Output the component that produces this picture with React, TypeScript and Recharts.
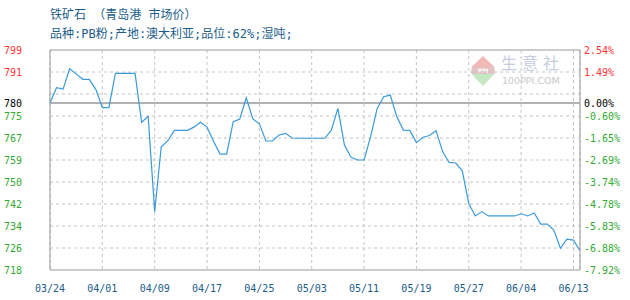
import { LineChart, Line, XAxis, YAxis, CartesianGrid, ReferenceLine } from "recharts";

// Daily quotes, 03/24 – 06/14 (06/08 has no quote)
const diasMarco = ["03/24", "03/25", "03/26", "03/27", "03/28", "03/29", "03/30", "03/31"];
const diasAbril = [
  "04/01", "04/02", "04/03", "04/04", "04/05", "04/06", "04/07", "04/08", "04/09", "04/10",
  "04/11", "04/12", "04/13", "04/14", "04/15", "04/16", "04/17", "04/18", "04/19", "04/20",
  "04/21", "04/22", "04/23", "04/24", "04/25", "04/26", "04/27", "04/28", "04/29", "04/30",
];
const diasMaio = [
  "05/01", "05/02", "05/03", "05/04", "05/05", "05/06", "05/07", "05/08", "05/09", "05/10",
  "05/11", "05/12", "05/13", "05/14", "05/15", "05/16", "05/17", "05/18", "05/19", "05/20",
  "05/21", "05/22", "05/23", "05/24", "05/25", "05/26", "05/27", "05/28", "05/29", "05/30",
  "05/31",
];
const diasJunho = [
  "06/01", "06/02", "06/03", "06/04", "06/05", "06/06", "06/07", "06/09", "06/10", "06/11",
  "06/12", "06/13", "06/14",
];

// 元/吨
const precos = [
  779.5, 785.1, 784.6, 792.1, 790.2, 788.2, 788.2, 784.5,
  777.8, 777.8, 790.4, 790.4, 790.4, 790.4, 772.4, 774.5, 739.5, 763.4,
  765.6, 769.4, 769.4, 769.4, 770.6, 772.4, 770.6, 765.3, 760.7, 760.7,
  772.6, 773.6, 781.4, 773.6, 771.8, 765.5, 765.5, 767.7, 768.3, 766.6,
  766.5, 766.5, 766.5, 766.5, 766.5, 769.5, 777.5, 764.0, 759.5, 758.5,
  758.5, 767.1, 777.5, 781.8, 782.4, 774.5, 769.5, 769.4, 764.9, 766.9,
  767.5, 769.3, 761.6, 757.6, 757.4, 754.6, 742.5, 737.9, 739.5, 737.9,
  737.9, 737.9, 737.9, 737.9, 738.7, 737.9, 739.0, 734.9, 734.9, 732.7,
  726.0, 729.4, 729.0, 725.1,
];

const ticksX = ["03/24", "04/01", "04/09", "04/17", "04/25", "05/03", "05/11", "05/19", "05/27", "06/04", "06/13"];

const linhasGrade = [718, 726.1, 734.2, 742.3, 750.4, 758.5, 766.6, 774.7, 782.8, 790.9, 799];
const rotulosEsq = ["718", "726", "734", "742", "750", "759", "767", "775", "", "791", "799"];
const rotulosDir = ["-7.92%", "-6.88%", "-5.83%", "-4.78%", "-3.74%", "-2.69%", "-1.65%", "-0.60%", "", "1.49%", "2.54%"];

const precoBase = 779.5;
const rotuloBaseEsq = "780";
const rotuloBaseDir = "0.00%";

const dias = [...diasMarco, ...diasAbril, ...diasMaio, ...diasJunho];
const dados = dias.map((dia, i) => ({ dia, preco: precos[i] }));

const VERMELHO = "#ff3333";
const VERDE = "#33aa33";
const AZUL_TEXTO = "#1c5d8a";
const CINZA = "#999999";
const GRADE = "#c4c4c4";
const FONTE = "'DejaVu Sans Mono', 'Noto Sans CJK SC', monospace";

const LARGURA = 630;
const EIXO_LARGURA = 50;

// price on the left, change vs. the first quote on the right
function TickY(props: any) {
  const { x, y, payload } = props;
  const v = payload.value;
  let esq: string;
  let dir: string;
  let cor: string;
  if (v === precoBase) {
    esq = rotuloBaseEsq;
    dir = rotuloBaseDir;
    cor = "#000";
  } else {
    const i = linhasGrade.indexOf(v);
    esq = rotulosEsq[i];
    dir = rotulosDir[i];
    cor = v > precoBase ? VERMELHO : VERDE;
  }
  return (
    <g fill={cor} fontSize={10} fontFamily={FONTE}>
      <text x={x} y={y} dy={4} textAnchor="end">
        {esq}
      </text>
      <text x={LARGURA - EIXO_LARGURA + 4} y={y} dy={4} textAnchor="start">
        {dir}
      </text>
    </g>
  );
}

function MarcaDagua() {
  return (
    <svg width={630} height={300} style={{ position: "absolute", left: 0, top: 0 }}>
      <polygon points="471.5,67 483,56 494.5,67" fill="#f2b9b9" />
      <rect x={471.5} y={67} width={23} height={7} fill="#e2c2c2" />
      <text x={483} y={73} textAnchor="middle" fontSize={6} fill="#ffffff" fontFamily="DejaVu Sans" fontWeight="bold">
        PPI
      </text>
      <polygon points="471.5,74 494.5,74 483,86" fill="#c4e8c4" />
      <text x={501} y={69} fontSize={16} fill="#c6cce0" fontFamily="'Noto Sans CJK SC'" letterSpacing={5}>
        生意社
      </text>
      <text x={502} y={84} fontSize={9.5} fill="#c9c9c9" fontFamily="'DejaVu Sans'">
        100PPI.COM
      </text>
    </svg>
  );
}

export default function App() {
  return (
    <div style={{ position: "absolute", left: 0, top: 0, width: LARGURA, height: 300, background: "#fff" }}>
      <MarcaDagua />
      <div
        style={{
          position: "absolute",
          left: 50,
          top: 6,
          fontSize: 12,
          lineHeight: "19px",
          color: AZUL_TEXTO,
          fontFamily: FONTE,
          whiteSpace: "pre",
        }}
      >
        <div>铁矿石 （青岛港 市场价）</div>
        <div>品种:PB粉;产地:澳大利亚;品位:62%;湿吨;</div>
      </div>
      <div style={{ position: "absolute", left: 0, top: 0 }}>
        <LineChart width={LARGURA} height={300} data={dados} margin={{ top: 50, right: 0, bottom: 0, left: 0 }}>
          {/* vertical dashed grid at the date labels */}
          <CartesianGrid horizontal={false} stroke={GRADE} strokeDasharray="3 3" />
          <XAxis
            dataKey="dia"
            ticks={ticksX}
            interval={0}
            height={30}
            tickSize={0}
            tickMargin={15}
            axisLine={{ stroke: CINZA }}
            tick={{ fill: AZUL_TEXTO, fontSize: 10, fontFamily: FONTE }}
          />
          <YAxis
            yAxisId="esq"
            domain={[718, 799]}
            ticks={[...linhasGrade, precoBase]}
            interval={0}
            width={EIXO_LARGURA}
            tickSize={0}
            tickMargin={28}
            axisLine={{ stroke: CINZA }}
            tick={(p: any) => <TickY {...p} />}
          />
          <YAxis
            yAxisId="dir"
            orientation="right"
            domain={[718, 799]}
            width={EIXO_LARGURA}
            tick={false}
            tickLine={false}
            axisLine={{ stroke: CINZA }}
          />
          {/* horizontal dashed grid */}
          <ReferenceLine yAxisId="esq" y={726.1} stroke={GRADE} strokeDasharray="3 3" />
          <ReferenceLine yAxisId="esq" y={734.2} stroke={GRADE} strokeDasharray="3 3" />
          <ReferenceLine yAxisId="esq" y={742.3} stroke={GRADE} strokeDasharray="3 3" />
          <ReferenceLine yAxisId="esq" y={750.4} stroke={GRADE} strokeDasharray="3 3" />
          <ReferenceLine yAxisId="esq" y={758.5} stroke={GRADE} strokeDasharray="3 3" />
          <ReferenceLine yAxisId="esq" y={766.6} stroke={GRADE} strokeDasharray="3 3" />
          <ReferenceLine yAxisId="esq" y={774.7} stroke={GRADE} strokeDasharray="3 3" />
          <ReferenceLine yAxisId="esq" y={782.8} stroke={GRADE} strokeDasharray="3 3" />
          <ReferenceLine yAxisId="esq" y={790.9} stroke={GRADE} strokeDasharray="3 3" />
          <ReferenceLine yAxisId="esq" y={799} stroke={CINZA} />
          <ReferenceLine yAxisId="esq" y={precoBase} stroke={CINZA} strokeWidth={1.5} />
          {/* same series on the % axis so that axis (the right border) gets drawn */}
          <Line
            yAxisId="dir"
            type="linear"
            dataKey="preco"
            stroke="none"
            dot={false}
            activeDot={false}
            isAnimationActive={false}
          />
          <Line
            yAxisId="esq"
            type="linear"
            dataKey="preco"
            stroke="#3a9ad9"
            strokeWidth={1.2}
            dot={false}
            isAnimationActive={false}
          />
        </LineChart>
      </div>
    </div>
  );
}
